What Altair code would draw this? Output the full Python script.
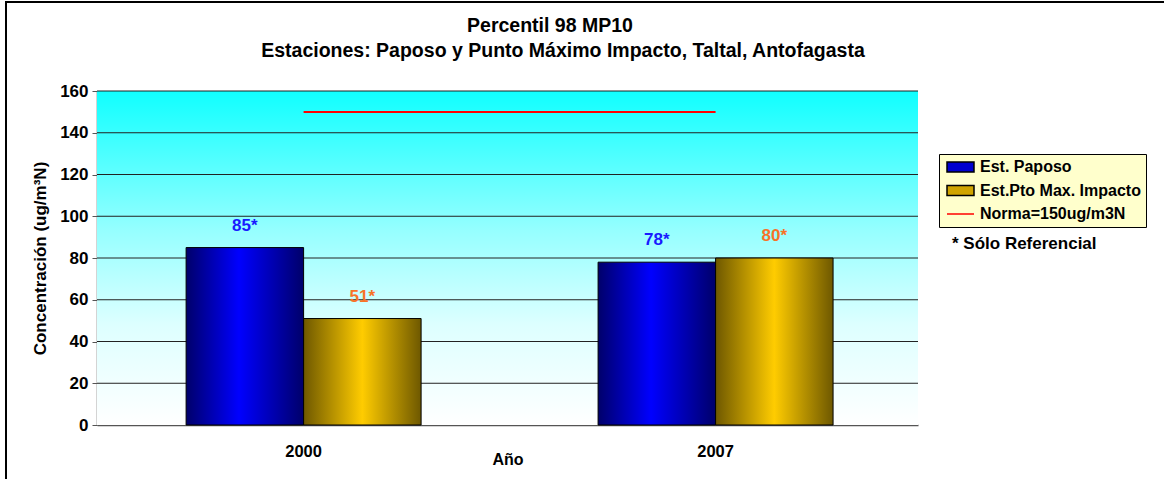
import altair as alt
import pandas as pd

# Percentil 98 de MP10 por estación y año
years = ["2000", "2007"]
series = ["Est. Paposo", "Est.Pto Max. Impacto"]
paposo = [85, 78]
impacto = [51, 80]
norma_label = "Norma=150ug/m3N"
norma_value = 150
y_ticks = [0, 20, 40, 60, 80, 100, 120, 140, 160]
title_lines = ["Percentil 98 MP10", "Estaciones: Paposo y Punto Máximo Impacto, Taltal, Antofagasta"]

FONT = "Liberation Sans"
W, H = 821, 334

bars = pd.DataFrame(
    {
        "year": years * 2,
        "serie": [series[0]] * 2 + [series[1]] * 2,
        "value": paposo + impacto,
    }
)
bars["label"] = bars["value"].astype(str) + "*"

norma = pd.DataFrame({"start": [years[0]], "end": [years[-1]], "value": [norma_value]})
grid = pd.DataFrame({"v": y_ticks[1:]})
legend_items = pd.DataFrame({"serie": series + [norma_label]})
note = pd.DataFrame({"text": ["* Sólo Referencial"]})
one = pd.DataFrame({"k": [0]})

x_scale = alt.Scale(domain=years, paddingInner=0.4296, paddingOuter=0.2112, align=0.512)
y_scale = alt.Scale(domain=[0, 160], nice=False, zero=True)
off_scale = alt.Scale(domain=series, paddingInner=0, paddingOuter=0)

blue_grad = alt.LinearGradient(
    gradient="linear", x1=0, x2=1, y1=0, y2=0,
    stops=[
        alt.GradientStop(color="#00006A", offset=0),
        alt.GradientStop(color="#0000FF", offset=0.45),
        alt.GradientStop(color="#00006A", offset=1),
    ],
)
gold_grad = alt.LinearGradient(
    gradient="linear", x1=0, x2=1, y1=0, y2=0,
    stops=[
        alt.GradientStop(color="#6E5800", offset=0),
        alt.GradientStop(color="#FFCC00", offset=0.5),
        alt.GradientStop(color="#6E5800", offset=1),
    ],
)
sky_grad = alt.LinearGradient(
    gradient="linear", x1=0, x2=0, y1=0, y2=1,
    stops=[
        alt.GradientStop(color="#10FFFF", offset=0),
        alt.GradientStop(color="#96FFFF", offset=0.42),
        alt.GradientStop(color="#DDFFFF", offset=0.7),
        alt.GradientStop(color="#FFFFFF", offset=1),
    ],
)

# outer frame of the chart area (top and left edges)
frame_top = alt.Chart(one).mark_rule(color="black", strokeWidth=2).encode(
    x=alt.value(-92), x2=alt.value(1080), y=alt.value(-89)
)
frame_left = alt.Chart(one).mark_rule(color="black", strokeWidth=2).encode(
    x=alt.value(-91), y=alt.value(-90), y2=alt.value(400)
)

# two-line heading
heading = alt.Chart(
    pd.DataFrame({"line": title_lines, "hx": [453, 466], "hy": [-65, -40]})
).mark_text(
    font=FONT, fontSize=19.5, fontWeight="bold", color="black", baseline="middle"
).encode(
    x=alt.X("hx:Q", scale=None), y=alt.Y("hy:Q", scale=None), text="line:N"
)

# plot-area background
background = alt.Chart(one).mark_rect(color=sky_grad).encode(
    x=alt.value(0), x2=alt.value(W), y=alt.value(0), y2=alt.value(H)
)

gridlines = alt.Chart(grid).mark_rule(color="#222222", strokeWidth=1).encode(
    y=alt.Y("v:Q", scale=y_scale)
)

x_axis = alt.Axis(
    title="Año", labelAngle=0, ticks=False, labelPadding=18,
    titleY=34, titleBaseline="middle",
    domainColor="#555555", domainWidth=1.5,
)
y_axis = alt.Axis(
    title="Concentración (ug/m³N)", values=y_ticks, grid=False,
    tickSize=5, labelPadding=4, titlePadding=10, titleFontSize=17,
    labelFontSize=17,
    domainColor="#555555", domainWidth=1.5, tickColor="#555555",
)

bar_layer = alt.Chart(bars).mark_bar(stroke="black", strokeWidth=1).encode(
    x=alt.X("year:N", scale=x_scale, axis=x_axis),
    xOffset=alt.XOffset("serie:N", scale=off_scale),
    y=alt.Y("value:Q", scale=y_scale, axis=y_axis),
    color=alt.condition(
        alt.datum.serie == series[0], alt.value(blue_grad), alt.value(gold_grad)
    ),
)

labels = alt.Chart(bars).mark_text(
    font=FONT, fontWeight="bold", fontSize=17, baseline="middle", dy=-22
).encode(
    x=alt.X("year:N", scale=x_scale),
    xOffset=alt.XOffset("serie:N", scale=off_scale),
    y=alt.Y("value:Q", scale=y_scale),
    text="label:N",
    color=alt.condition(
        alt.datum.serie == series[0], alt.value("#1A1AFF"), alt.value("#F87228")
    ),
)

norma_rule = alt.Chart(norma).mark_rule(color="#FF0000", strokeWidth=2).encode(
    x=alt.X("start:N", scale=x_scale),
    x2="end:N",
    y=alt.Y("value:Q", scale=y_scale),
)

# legend entries (no visible points; only the legend is drawn)
rect_path = "M-1.8,-0.67H1.8V0.67H-1.8Z"
line_path = "M-1.8,0H1.8"
legend_dom = series + [norma_label]
leg = alt.Legend(title=None)
legend_layer = alt.Chart(legend_items).mark_point(filled=True).encode(
    fill=alt.Fill("serie:N", scale=alt.Scale(domain=legend_dom, range=["#0000D0", "#D0A400", "transparent"]), legend=leg),
    stroke=alt.Stroke("serie:N", scale=alt.Scale(domain=legend_dom, range=["#000000", "#000000", "#FF0000"]), legend=leg),
    shape=alt.Shape("serie:N", scale=alt.Scale(domain=legend_dom, range=[rect_path, rect_path, line_path]), legend=leg),
).transform_filter("false")

note_layer = alt.Chart(note).mark_text(
    font=FONT, fontWeight="bold", fontSize=17, align="left", baseline="middle"
).encode(x=alt.value(855), y=alt.value(153), text="text:N")

chart = (
    alt.layer(
        frame_top, frame_left, heading, background, gridlines, bar_layer,
        norma_rule, labels, legend_layer, note_layer,
    )
    .properties(
        width=W,
        height=H,
        autosize=alt.AutoSizeParams(type="none"),
        padding={"left": 97, "top": 91, "right": 246, "bottom": 54},
    )
    .configure_view(stroke=None)
    .configure_axis(
        labelFont=FONT, labelFontSize=16.5, labelFontWeight="bold", labelColor="black",
        titleFont=FONT, titleFontSize=16, titleFontWeight="bold", titleColor="black",
    )
    .configure_legend(
        orient="none", legendX=842, legendY=63,
        fillColor="#FFFFCC", strokeColor="black", padding=4.5,
        symbolSize=225, symbolStrokeWidth=1.5, symbolOffset=8.5, symbolOpacity=1,
        labelOffset=11, rowPadding=6.5, labelLimit=300,
        labelFont=FONT, labelFontSize=16, labelFontWeight="bold", labelColor="black",
    )
)

chart.save("out.html", embed_options={"renderer": "svg", "actions": False})
